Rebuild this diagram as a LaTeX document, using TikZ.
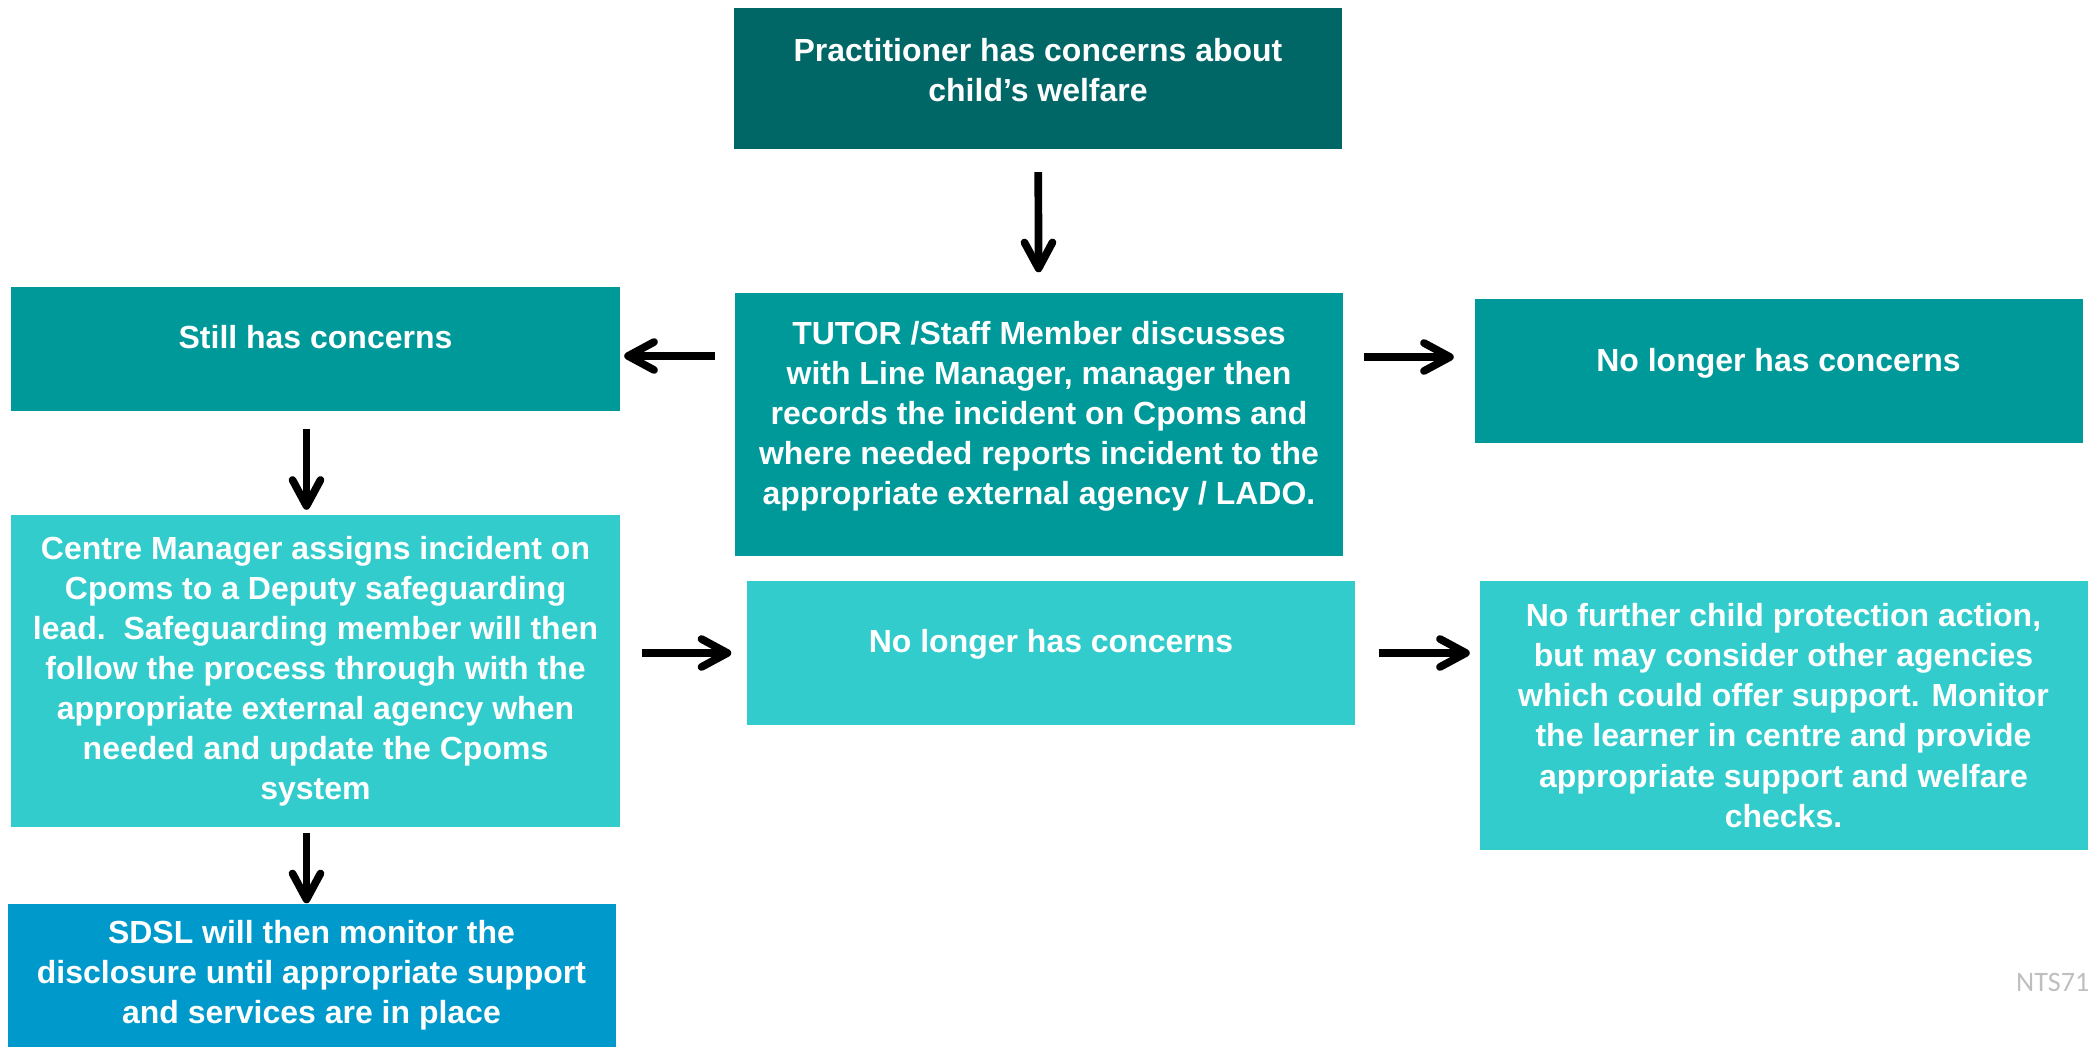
\documentclass[tikz,border=0pt]{standalone}
\usepackage{fontspec}
\setmainfont{Liberation Sans}
\newfontfamily\notefont{Carlito}
\usetikzlibrary
  {
    arrows.meta,              % barb arrow heads
    positioning,              % place nodes relative to other nodes
  }

% invisible strut under the last line, lifts the text in its box
\newcommand\boxpad[1]{\rule[-#1]{0pt}{#1}}

\begin{document}
\begin{tikzpicture}
    [
      % Styles
      box/.style={rectangle, inner sep=0pt, minimum width=6.08cm, text=white,
        align=center, font=\fontsize{9.1pt}{11.4pt}\selectfont\bfseries},
      arrow/.style={line width=0.77mm,
        -{Straight Barb[round, length=2.6mm, width=2.8mm]}},
      note text/.style={inner sep=0pt, font=\notefont\fontsize{8pt}{9.6pt}\selectfont, text=notecolor}
    ]

    % Colors
    \definecolor{darkcolor}{HTML}{006666}
    \definecolor{tealcolor}{HTML}{009999}
    \definecolor{lightcolor}{HTML}{33CCCC}
    \definecolor{bluecolor}{HTML}{0099CC}
    \definecolor{notecolor}{HTML}{BFBFBF}

    \useasboundingbox (0,0) rectangle (20.92,10.47);

    % top row
    \node [box, fill=darkcolor, minimum height=1.41cm] (concern) at (10.38,9.68)
      {Practitioner has concerns about\\child’s welfare\boxpad{1.9mm}};

    % middle row
    \node [box, fill=tealcolor, minimum height=2.63cm] (tutor) at (10.39,6.225)
      {TUTOR /Staff Member discusses\\
       with Line Manager, manager then\\
       records the incident on Cpoms and\\
       where needed reports incident to the\\
       appropriate external agency / LADO.\boxpad{2.3mm}};
    \node [box, fill=tealcolor, minimum height=1.24cm] (still) at (3.155,6.98)
      {Still has concerns\boxpad{2.4mm}};
    \node [box, fill=tealcolor, minimum height=1.44cm] (nolonger) at (17.785,6.76)
      {No longer has concerns\boxpad{2.3mm}};

    % lower row
    \node [box, fill=lightcolor, minimum height=3.12cm] (centre) at (3.155,3.76)
      {Centre Manager assigns incident on\\
       Cpoms to a Deputy safeguarding\\
       lead.\ \ Safeguarding member will then\\
       follow the process through with the\\
       appropriate external agency when\\
       needed and update the Cpoms\\
       system};
    \node [box, fill=lightcolor, minimum height=1.44cm] (nolongerlow) at (10.51,3.94)
      {No longer has concerns\boxpad{2.5mm}};
    \node [box, fill=lightcolor, minimum height=2.69cm] (nofurther) at (17.835,3.315)
      {No further child protection action,\\
       but may consider other agencies\\
       which could offer support. Monitor\\
       the learner in centre and provide\\
       appropriate support and welfare\\
       checks.};

    % bottom
    \node [box, fill=bluecolor, minimum height=1.43cm] (sdsl) at (3.115,0.715)
      {SDSL will then monitor the\\
       disclosure until appropriate support\\
       and services are in place};

    \node [note text, anchor=base east] (ref) at (20.9,0.56) {NTS71};

    % arrows
    \draw [arrow, shorten <=2.2mm, shorten >=2mm] (concern) -- (tutor);
    \draw [arrow, shorten <=1.9mm, shorten >=0.4mm]
      ([yshift=-0.7mm]still.east -| tutor.west) -- ([yshift=-0.7mm]still.east);
    \draw [arrow, shorten <=2mm, shorten >=2mm]
      ([yshift=-0.8mm]tutor.east |- still.east) -- ([yshift=-0.8mm]nolonger.west |- still.east);
    \draw [arrow, shorten <=1.7mm, shorten >=0.45mm]
      ([xshift=-0.9mm]still.south) -- ([xshift=-0.9mm]centre.north);
    \draw [arrow, shorten <=2.2mm, shorten >=1.5mm]
      (centre.east |- nolongerlow.west) -- (nolongerlow.west);
    \draw [arrow, shorten <=2.3mm, shorten >=0.9mm]
      (nolongerlow.east) -- (nolongerlow.east -| nofurther.west);
    \draw [arrow, shorten <=0.5mm]
      ([xshift=-0.9mm]centre.south) -- ([xshift=-0.9mm]centre.south |- sdsl.north);
  \end{tikzpicture}
\end{document}
